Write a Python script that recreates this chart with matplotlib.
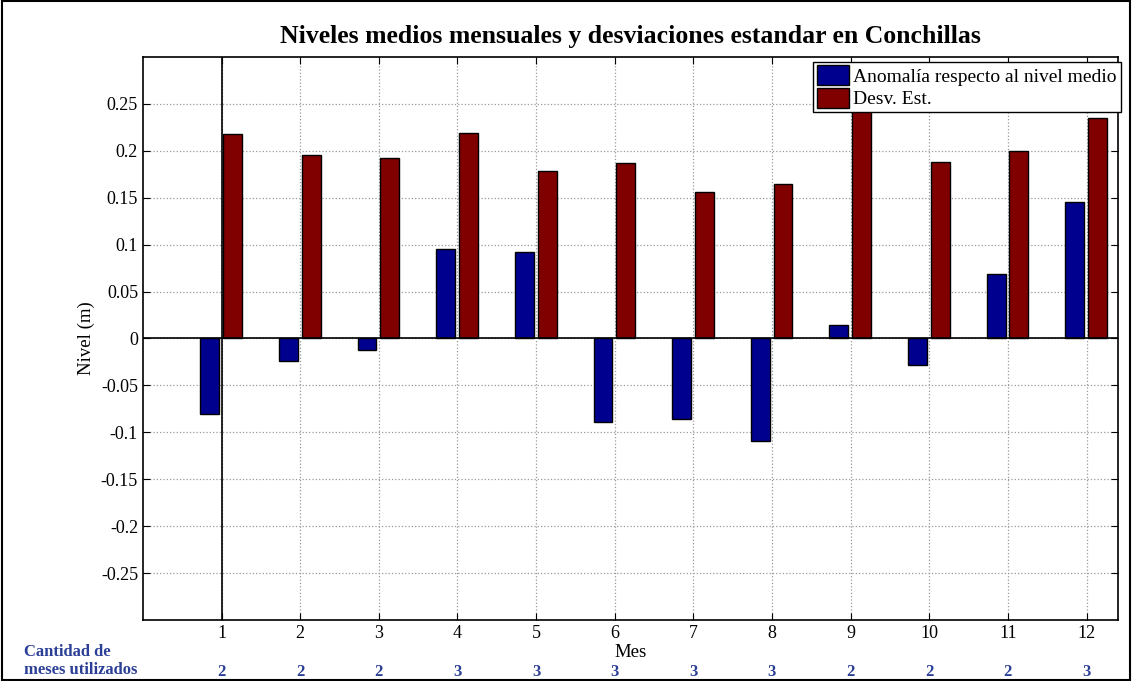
import matplotlib.pyplot as plt
from matplotlib.patches import Rectangle

# Datos
meses = list(range(1, 13))
anomalia = [-0.081, -0.024, -0.012, 0.095, 0.092, -0.089, -0.086, -0.109, 0.014, -0.028, 0.069, 0.145]
desv_est = [0.218, 0.196, 0.192, 0.219, 0.179, 0.187, 0.156, 0.165, 0.262, 0.188, 0.200, 0.235]
cantidad = [2, 2, 2, 3, 3, 3, 3, 3, 2, 2, 2, 3]
yticks = [-0.25, -0.2, -0.15, -0.1, -0.05, 0, 0.05, 0.1, 0.15, 0.2, 0.25]

plt.rcParams['font.family'] = ['Liberation Serif', 'DejaVu Serif']

fig = plt.figure(figsize=(11.32, 6.81), dpi=100)
ax = fig.add_axes([0.1263, 0.0896, 0.8613, 0.8267])

w = 0.24
ax.bar([m - 0.15 for m in meses], anomalia, width=w, color='#00008f',
       edgecolor='black', linewidth=1, label='Anomalía respecto al nivel medio', zorder=3)
ax.bar([m + 0.14 for m in meses], desv_est, width=w, color='#800000',
       edgecolor='black', linewidth=1, label='Desv. Est.', zorder=3)

ax.axhline(0, color='black', linewidth=1.2, zorder=4)
ax.axvline(1, color='black', linewidth=1.2, zorder=4)

ax.set_xlim(0, 12.4)
ax.set_ylim(-0.3, 0.3)
ax.set_xticks(meses)
ax.set_yticks(yticks)
ax.set_yticklabels([f'{v:g}' for v in yticks])
ax.tick_params(direction='in', top=True, right=True, labelsize=13, length=5)
ax.grid(True, color='#999999', linestyle=':', linewidth=0.9, zorder=0)
for s in ax.spines.values():
    s.set_linewidth(1.2)

ax.set_title('Niveles medios mensuales y desviaciones estandar en Conchillas',
             fontsize=18.5, fontweight='bold', pad=10)
ax.set_xlabel('Mes', fontsize=13.5, labelpad=1.5)
ax.set_ylabel('Nivel (m)', fontsize=13.5)

leg = ax.legend(loc='upper right', bbox_to_anchor=(1.003, 0.992), fontsize=14,
                frameon=True, fancybox=False, edgecolor='black', framealpha=1,
                borderpad=0.2, handlelength=1.65, handleheight=1.2, handletextpad=0.25,
                labelspacing=0.1, borderaxespad=0)
leg.get_frame().set_linewidth(1)

# Cantidad de meses utilizados
azul = '#2b3f96'
for m, c in zip(meses, cantidad):
    ax.text(m, -0.3, str(c), ha='center', va='center', fontsize=12,
            fontweight='bold', color=azul, clip_on=False,
            transform=ax.get_xaxis_transform(), position=(m, -52 / 563))
fig.text(24 / 1132, 1 - 652 / 681, 'Cantidad de', ha='left', va='center',
         fontsize=12, fontweight='bold', color=azul)
fig.text(24 / 1132, 1 - 670 / 681, 'meses utilizados', ha='left', va='center',
         fontsize=12, fontweight='bold', color=azul)

fig.patches.append(Rectangle((0.002, 0.002), 0.996, 0.996, transform=fig.transFigure,
                             fill=False, edgecolor='black', linewidth=1.5))

fig.savefig('out.png', dpi=100)
